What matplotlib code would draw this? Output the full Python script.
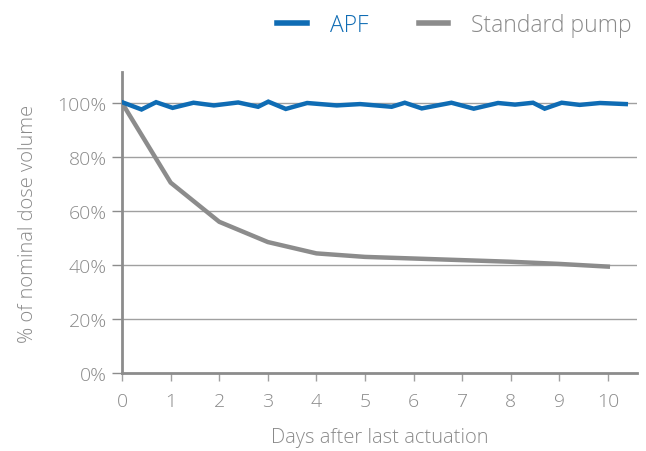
import matplotlib
matplotlib.use("Agg")
import matplotlib.pyplot as plt

plt.rcParams['font.family'] = ['Open Sans', 'DejaVu Sans']

apf_days = [0, 0.4, 0.7, 1.04, 1.47, 1.89, 2.39, 2.8, 3.01, 3.37, 3.81, 4.42, 4.9,
            5.55, 5.82, 6.17, 6.78, 7.24, 7.74, 8.09, 8.46, 8.7, 9.05, 9.42, 9.84, 10.37]
apf_vals = [100.3, 97.6, 100.3, 98.2, 100.1, 99.1, 100.2, 98.6, 100.5, 97.8, 100.0,
            99.1, 99.6, 98.6, 100.1, 98.0, 100.1, 97.9, 100.0, 99.4, 100.1, 97.9,
            100.1, 99.3, 100.0, 99.6]

std_days = [0, 1, 2, 3, 4, 5, 6, 7, 8, 9, 10]
std_vals = [100, 70.5, 56, 48.5, 44.3, 43, 42.4, 41.8, 41.2, 40.4, 39.4]

xticks = [0, 1, 2, 3, 4, 5, 6, 7, 8, 9, 10]
yticks = [0, 20, 40, 60, 80, 100]
ytick_labels = ['0%', '20%', '40%', '60%', '80%', '100%']

blue = '#0f6cb4'
gray = '#8c8c8c'
txt = '#8a8a8a'

fig = plt.figure(figsize=(6.46, 4.52), dpi=100)
ax = fig.add_axes([0.189, 0.1726, 0.797, 0.666])

for y in yticks[1:]:
    ax.axhline(y, color='#a0a0a0', lw=1.0, zorder=1)

ax.plot(std_days, std_vals, color=gray, lw=3.2, zorder=3, label='Standard pump',
        solid_joinstyle='miter')
ax.plot(apf_days, apf_vals, color=blue, lw=3.2, zorder=4, label='APF',
        solid_joinstyle='miter')

ax.set_xlim(0, 10.6)
ax.set_ylim(0, 111.5)
ax.set_xticks(xticks)
ax.set_xticklabels([str(v) for v in xticks])
ax.set_yticks(yticks)
ax.set_yticklabels(ytick_labels)

for s in ['top', 'right']:
    ax.spines[s].set_visible(False)
for s in ['left', 'bottom']:
    ax.spines[s].set_color('#8c8c8c')
    ax.spines[s].set_linewidth(2.0)

ax.tick_params(axis='y', length=7, width=1, color='#8c8c8c', labelcolor=txt,
               labelsize=14, pad=4)
ax.tick_params(axis='x', length=6, width=1, color='#a0a0a0', labelcolor=txt,
               labelsize=14, pad=8)
for t in ax.get_xticklabels() + ax.get_yticklabels():
    t.set_fontweight('light')

ax.set_xlabel('Days after last actuation', color=txt, fontsize=14.5, labelpad=12,
              fontweight='light')
ax.set_ylabel('% of nominal dose volume', color=txt, fontsize=14.5, labelpad=14,
              fontweight='light')

handles, labels = ax.get_legend_handles_labels()
order = [1, 0]
leg = fig.legend([handles[i] for i in order], [labels[i] for i in order],
                 loc='upper right', bbox_to_anchor=(1.01, 1.015), ncol=2,
                 frameon=False, prop={'size': 16.5, 'weight': 'light'},
                 handlelength=1.3, handletextpad=1.0, columnspacing=2.2)
for t, c in zip(leg.get_texts(), [blue, txt]):
    t.set_color(c)
for h in leg.get_lines():
    h.set_linewidth(4)

fig.savefig('out.png', dpi=100)
